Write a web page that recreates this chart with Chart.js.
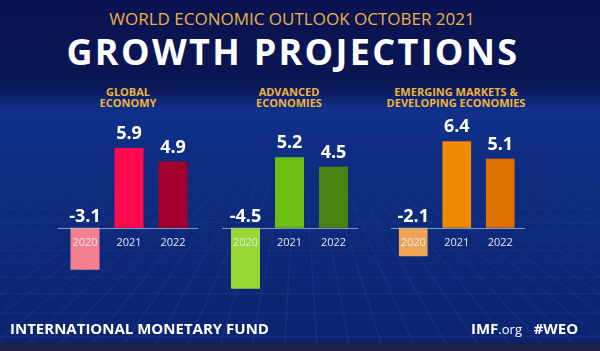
<!DOCTYPE html>
<html>
<head>
<meta charset="utf-8">
<script src="https://cdn.jsdelivr.net/npm/chart.js@4.4.0/dist/chart.umd.min.js"></script>
<style>
    body {
        margin: 0;
        width: 600px;
        height: 351px;
        overflow: hidden;
        position: relative;
        font-family: "Open Sans", sans-serif;
        background: linear-gradient(to bottom, #09134f 0px, #0a1655 85px, #10308a 110px, #0e2b7e 180px, #0d2776 280px, #0c2470 340px);
    }
    .fundo {
        position: absolute;
        left: 0;
        top: 95px;
        width: 600px;
        height: 250px;
        overflow: hidden;
    }
    .malha {
        position: absolute;
        left: -250px;
        top: -60px;
        width: 1100px;
        height: 420px;
        transform: perspective(260px) rotateX(58deg);
        background-image:
            linear-gradient(rgba(120, 160, 255, 0.09) 1px, transparent 1px),
            linear-gradient(90deg, rgba(120, 160, 255, 0.09) 1px, transparent 1px);
        background-size: 20px 20px;
    }
    .faixa {
        position: absolute;
        left: 0;
        top: 343px;
        width: 600px;
        height: 8px;
        background: #1c2143;
    }
    .texto {
        position: absolute;
        white-space: nowrap;
        transform: translateX(-50%);
        text-align: center;
    }
    #subtitulo {
        left: 292px;
        top: 7px;
        color: #e9b24c;
        font-size: 17px;
    }
    #titulo {
        left: 293px;
        top: 27px;
        color: #ffffff;
        font-size: 36px;
        font-weight: bold;
        letter-spacing: 2.3px;
    }
    .painel {
        color: #efb43e;
        font-size: 11px;
        font-weight: bold;
        line-height: 11px;
        top: 86px;
    }
    canvas {
        position: absolute;
        top: 110px;
    }
    #rodape {
        position: absolute;
        left: 10px;
        top: 318px;
        color: #ffffff;
        font-size: 15px;
        font-weight: bold;
    }
    #site {
        position: absolute;
        left: 471px;
        top: 318px;
        color: #ffffff;
        font-size: 15px;
    }
</style>
</head>
<body>
<div class="fundo"><div class="malha"></div></div>
<div class="faixa"></div>

<div class="texto" id="subtitulo">WORLD ECONOMIC OUTLOOK OCTOBER 2021</div>
<div class="texto" id="titulo">GROWTH PROJECTIONS</div>

<div class="texto painel" id="titulo0" style="left:128px"></div>
<div class="texto painel" id="titulo1" style="left:289px"></div>
<div class="texto painel" id="titulo2" style="left:456px"></div>

<canvas id="graficoGlobal" width="140" height="180" style="left:58px"></canvas>
<canvas id="graficoAvancadas" width="136" height="180" style="left:222px"></canvas>
<canvas id="graficoEmergentes" width="134" height="180" style="left:391px"></canvas>

<div id="rodape">INTERNATIONAL MONETARY FUND</div>
<div id="site"><b>IMF</b><span style="font-size:13px">.org</span>&nbsp;&nbsp; <b>#WEO</b></div>

<script>
// dados
const anos = ['2020', '2021', '2022'];
const titulos = [
    ['GLOBAL', 'ECONOMY'],
    ['ADVANCED', 'ECONOMIES'],
    ['EMERGING MARKETS &', 'DEVELOPING ECONOMIES']
];
const valoresGlobal = [-3.1, 5.9, 4.9];
const valoresAvancadas = [-4.5, 5.2, 4.5];
const valoresEmergentes = [-2.1, 6.4, 5.1];

titulos.forEach((linhas, i) => {
    document.getElementById('titulo' + i).innerHTML = linhas.join('<br>');
});

// rotulos dos valores, anos e linha do zero
const rotulos = {
    id: 'rotulos',
    afterDatasetsDraw(chart) {
        const { ctx } = chart;
        const y = chart.scales.y;
        const zero = Math.round(y.getPixelForValue(0));
        const valores = chart.data.datasets[0].data;

        ctx.save();
        ctx.strokeStyle = 'rgba(170, 185, 220, 0.75)';
        ctx.lineWidth = 1;
        ctx.beginPath();
        ctx.moveTo(0, zero + 0.5);
        ctx.lineTo(chart.width, zero + 0.5);
        ctx.stroke();

        ctx.textAlign = 'center';
        ctx.textBaseline = 'middle';
        chart.getDatasetMeta(0).data.forEach((barra, i) => {
            const v = valores[i];
            ctx.font = 'bold 18px "Open Sans"';
            ctx.fillStyle = '#ffffff';
            const yTexto = v >= 0 ? barra.y - 14 : zero - 11;
            ctx.fillText(v.toFixed(1), barra.x, yTexto);

            ctx.font = '11px "Open Sans"';
            ctx.fillStyle = '#e4e8f4';
            ctx.fillText(chart.data.labels[i], barra.x, zero + 15);
        });
        ctx.restore();
    }
};

function criarGrafico(id, valores, cores, padding) {
    new Chart(document.getElementById(id), {
        type: 'bar',
        data: {
            labels: anos,
            datasets: [{
                data: valores,
                backgroundColor: cores,
                borderWidth: 0,
                categoryPercentage: 1,
                barPercentage: 0.66
            }]
        },
        options: {
            responsive: false,
            animation: false,
            layout: { padding: padding },
            plugins: {
                legend: { display: false },
                tooltip: { enabled: false }
            },
            scales: {
                x: { display: false },
                y: { display: false, min: -4.6, max: 8.7 }
            }
        },
        plugins: [rotulos]
    });
}

criarGrafico('graficoGlobal', valoresGlobal, ['#f4808f', '#ff0a4e', '#a3002e'], { left: 5, right: 3, top: 0, bottom: 0 });
criarGrafico('graficoAvancadas', valoresAvancadas, ['#97d834', '#6cbf12', '#4a8410'], { left: 1.5, right: 2.5, top: 0, bottom: 0 });
criarGrafico('graficoEmergentes', valoresEmergentes, ['#efa455', '#f08a00', '#de6f00'], { left: 0.5, right: 3, top: 0, bottom: 0 });
</script>
</body>
</html>
